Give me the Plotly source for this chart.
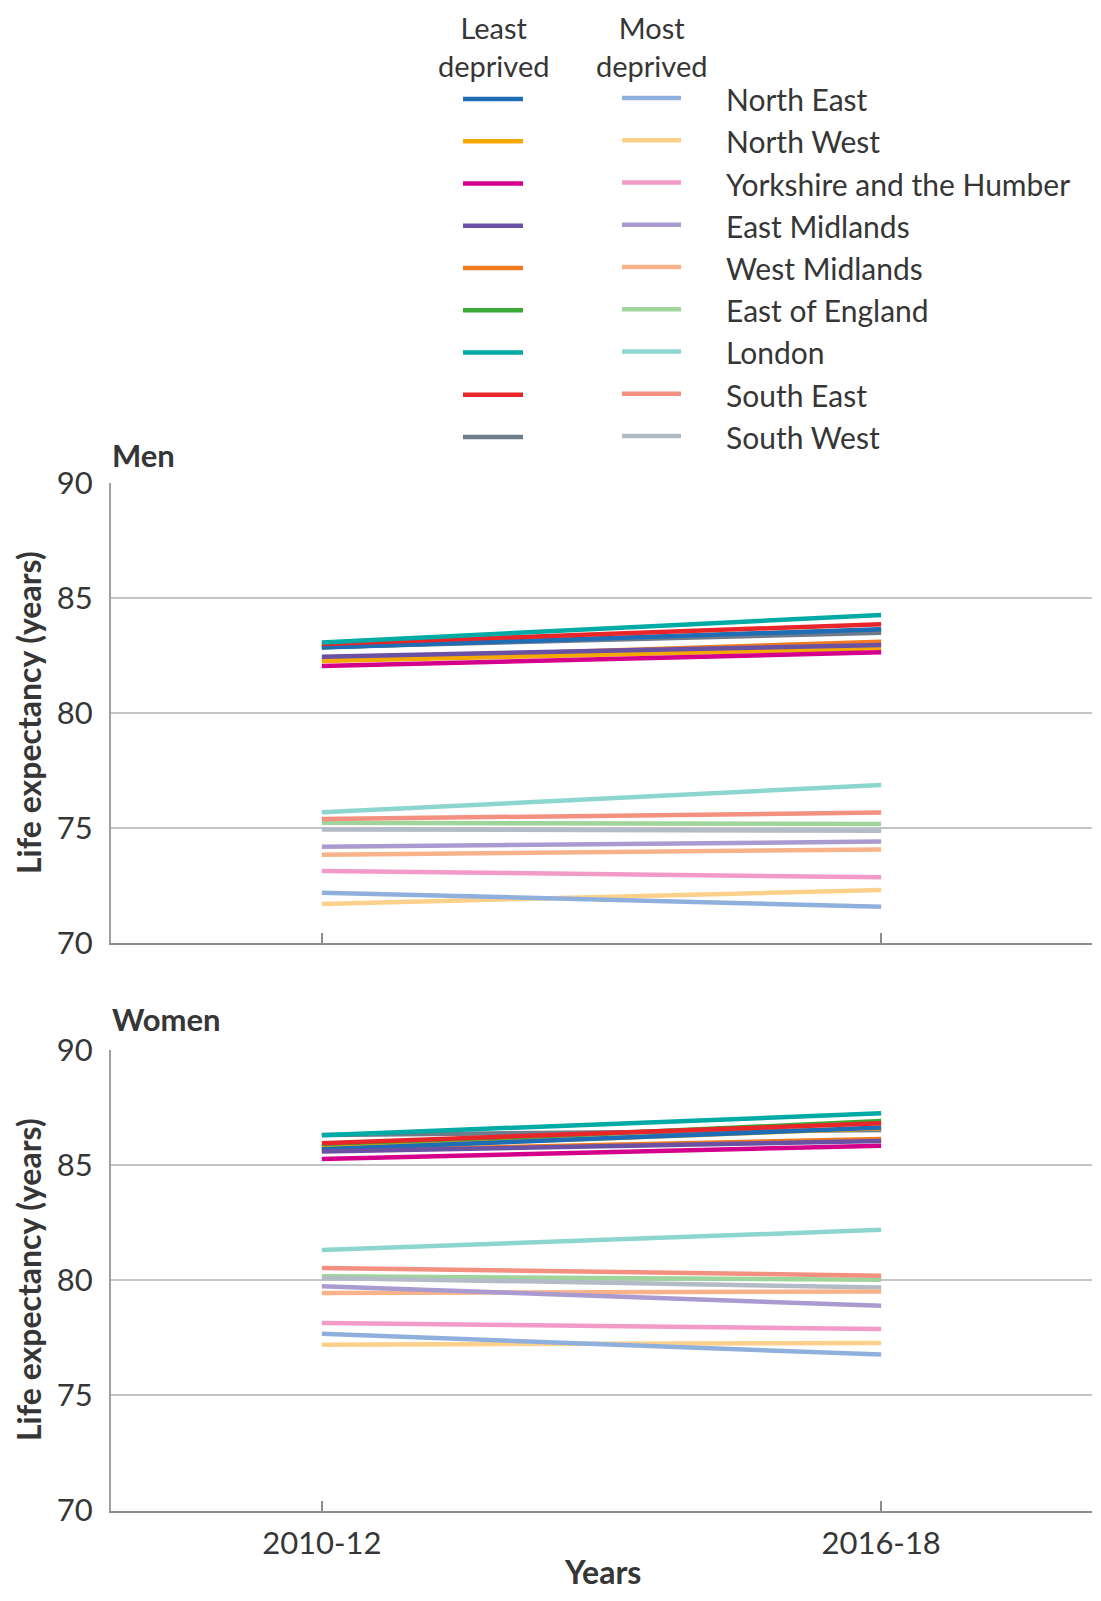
import plotly.graph_objects as go

regions = ["North East", "North West", "Yorkshire and the Humber", "East Midlands",
           "West Midlands", "East of England", "London", "South East", "South West"]
periods = ["2010-12", "2016-18"]

least_colors = ["#1f6db5", "#f5a800", "#d4008c", "#6a51a3", "#f07a22",
                "#3aaa35", "#00aaa5", "#e8262a", "#6e7b8b"]
most_colors = ["#8fb0dc", "#fdd08c", "#f29bc9", "#a99bd0", "#f9b38a",
               "#9fd49a", "#8dd6cf", "#f4907f", "#b3bcc6"]

# Men, least deprived [2010-12, 2016-18]
men_least = [[82.85, 83.64], [82.26, 82.81], [82.04, 82.64], [82.45, 82.96], [82.32, 83.10],
             [82.86, 83.62], [83.07, 84.26], [83.00, 83.86], [82.87, 83.49]]
# Men, most deprived
men_most = [[72.19, 71.58], [71.70, 72.30], [73.13, 72.86], [74.19, 74.41], [73.84, 74.07],
            [75.23, 75.17], [75.68, 76.87], [75.39, 75.67], [74.94, 74.88]]
# Women, least deprived
women_least = [[85.69, 86.63], [85.72, 86.60], [85.27, 85.84], [85.59, 86.05], [85.62, 86.13],
               [85.80, 86.92], [86.30, 87.25], [85.95, 86.82], [86.31, 86.53]]
# Women, most deprived
women_most = [[77.68, 76.77], [77.20, 77.28], [78.14, 77.88], [79.74, 78.89], [79.45, 79.51],
              [80.17, 80.02], [81.31, 82.19], [80.53, 80.20], [80.10, 79.69]]

yticks = [70, 75, 80, 85, 90]

# Page body has an 8px margin: figure coordinates = page coordinates - OFF
OFF = 8
W, H = 1085, 1585
ML = 111 - OFF
PR = 1092 - OFF           # right edge of plot area (figure px)
MR = W - PR
PW = PR - ML

def px_x(px):
    return (px - OFF - ML) / PW

def px_y(py):
    return 1 - (py - OFF) / H

FONT = "Lato"
TXT = "#363636"

fig = go.Figure()

draw_order = [5, 8, 4, 1, 0, 2, 3, 7, 6]
for panel, (least, most) in enumerate([(men_least, men_most), (women_least, women_most)]):
    xa = "x" if panel == 0 else "x2"
    ya = "y" if panel == 0 else "y2"
    for series, cols in ((most, most_colors), (least, least_colors)):
        for i in draw_order:
            fig.add_trace(go.Scatter(
                x=periods, y=series[i], mode="lines",
                line=dict(color=cols[i], width=4.5),
                xaxis=xa, yaxis=ya, showlegend=False, hoverinfo="skip"))

men_dom = [px_y(943), px_y(483)]
women_dom = [px_y(1510.5), px_y(1050)]

axis_common = dict(
    type="category", range=[-0.377, 1.377], showgrid=False, automargin=False,
    showline=True, linecolor="#8c8c8c", linewidth=2,
    ticks="inside", ticklen=10, tickcolor="#8c8c8c", tickwidth=2,
    tickfont=dict(family=FONT, size=31, color=TXT), zeroline=False,
)
yaxis_common = dict(
    range=[70, 90], tickvals=yticks, showgrid=True, gridcolor="#c4c4c4", gridwidth=1.5,
    showline=True, linecolor="#a0a0a0", linewidth=2, zeroline=False, automargin=False,
    ticks="", tickfont=dict(family=FONT, size=31, color=TXT), ticklabelstandoff=10,
)

fig.update_layout(
    template="none",
    width=W, height=H,
    margin=dict(l=ML, r=MR, t=0, b=0, pad=0),
    paper_bgcolor="white", plot_bgcolor="white",
    showlegend=False,
    xaxis=dict(axis_common, domain=[0, 1], anchor="y", showticklabels=False),
    yaxis=dict(yaxis_common, domain=men_dom, anchor="x"),
    xaxis2=dict(axis_common, domain=[0, 1], anchor="y2", showticklabels=True, ticklabelstandoff=4),
    yaxis2=dict(yaxis_common, domain=women_dom, anchor="x2"),
)

ann = []
# Panel titles
ann.append(dict(text="<b>Men</b>", x=px_x(110), y=px_y(455), xref="paper", yref="paper",
                xanchor="left", yanchor="middle", showarrow=False,
                font=dict(family=FONT, size=31, color=TXT)))
ann.append(dict(text="<b>Women</b>", x=px_x(110), y=px_y(1019), xref="paper", yref="paper",
                xanchor="left", yanchor="middle", showarrow=False,
                font=dict(family=FONT, size=31, color=TXT)))
# Y axis titles
for cy in (713, 1280):
    ann.append(dict(text="<b>Life expectancy (years)</b>", x=px_x(28), y=px_y(cy),
                    xref="paper", yref="paper", xanchor="center", yanchor="middle",
                    textangle=-90, showarrow=False,
                    font=dict(family=FONT, size=32, color=TXT)))
# X axis title (anchored to the bottom edge of the figure)
ann.append(dict(text="<b>Years</b>", x=px_x(602), y=0, xref="paper", yref="paper",
                xanchor="center", yanchor="bottom", showarrow=False,
                font=dict(family=FONT, size=32, color=TXT)))

# Legend headers (anchored to the top edge of the figure)
for cx, txt in ((493, "Least<br>deprived"), (651, "Most<br>deprived")):
    ann.append(dict(text=txt, x=px_x(cx), y=1, xref="paper", yref="paper",
                    xanchor="center", yanchor="top", showarrow=False, align="center",
                    font=dict(family=FONT, size=29, color=TXT)))

shapes = []
row0, drow = 99, 42.25
for i, name in enumerate(regions):
    py = row0 + i * drow
    shapes.append(dict(type="line", xref="paper", yref="paper",
                       x0=px_x(463), x1=px_x(523), y0=px_y(py), y1=px_y(py),
                       line=dict(color=least_colors[i], width=4.5)))
    shapes.append(dict(type="line", xref="paper", yref="paper",
                       x0=px_x(622), x1=px_x(681), y0=px_y(py - 1), y1=px_y(py - 1),
                       line=dict(color=most_colors[i], width=4.5)))
    ann.append(dict(text=name, x=px_x(724), y=px_y(py), xref="paper", yref="paper",
                    xanchor="left", yanchor="middle", showarrow=False,
                    font=dict(family=FONT, size=30, color=TXT)))

fig.update_layout(annotations=ann, shapes=shapes)

fig.write_html("out.html")
